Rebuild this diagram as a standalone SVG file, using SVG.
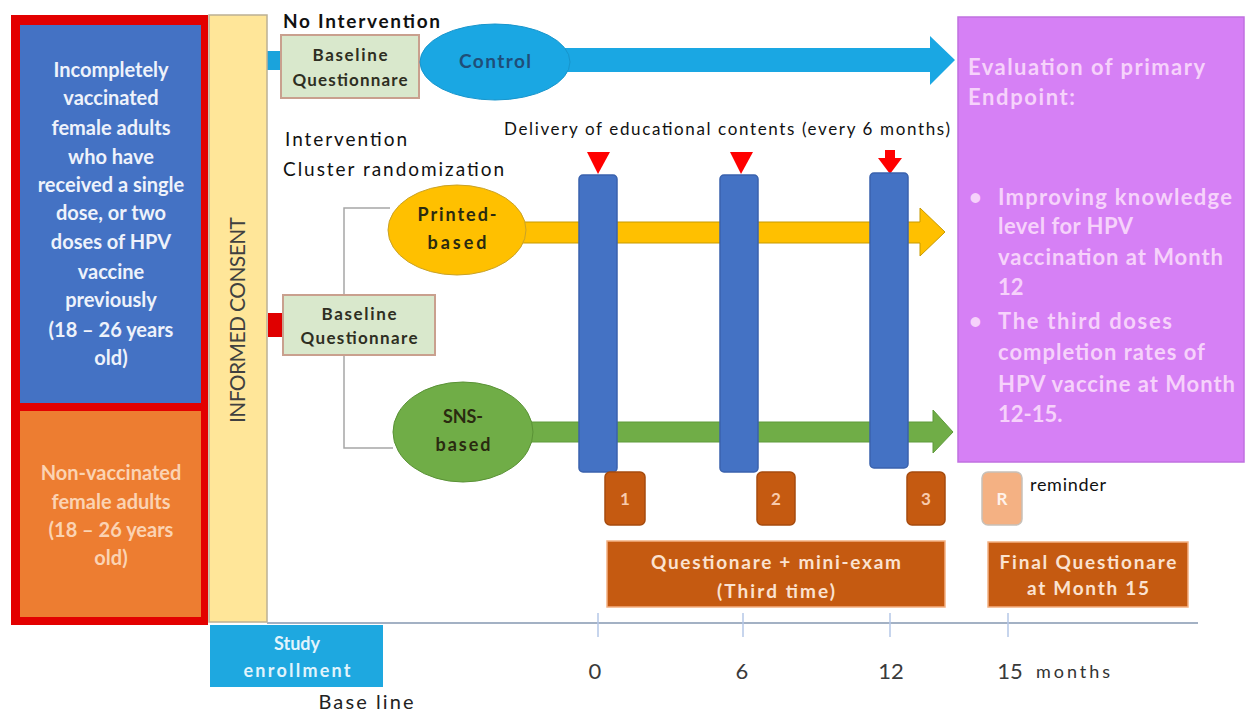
<svg xmlns="http://www.w3.org/2000/svg" width="1248" height="713" viewBox="0 0 1248 713">
<style>
text { font-family: Lato, "Liberation Sans", "DejaVu Sans", sans-serif; }
.lw { fill: #eef2fb; font-size: 20px; font-weight: bold; text-anchor: middle; }
.lo { fill: #fbd3b3; font-size: 20px; font-weight: bold; text-anchor: middle; }
.q { fill: #2e2e22; font-size: 17px; font-weight: bold; text-anchor: middle; }
.qbox { fill: #d9e8cc; stroke: #c9a08e; stroke-width: 2; }
.pt { fill: #f6d2fb; font-size: 22px; font-weight: bold; }
.bar { fill: #4472c4; stroke: #3a62ad; stroke-width: 1.5; }
.nbox { fill: #c55a11; stroke: #a64b0e; stroke-width: 1.5; }
.num { fill: #f8cbad; font-size: 17px; font-weight: bold; text-anchor: middle; }
.obox { fill: #c55a11; stroke: #f4b183; stroke-width: 1.5; }
.ot { fill: #fbe2d0; font-size: 19px; font-weight: bold; text-anchor: middle; }
.ax { fill: #3a3a3a; font-size: 22px; text-anchor: middle; }
.tri { fill: #ff0000; }
.tick { stroke: #b4c7e7; stroke-width: 1.5; }
.et { fill: #2a2a10; font-size: 18px; font-weight: bold; text-anchor: middle; }
</style>
<rect x="0" y="0" width="1248" height="713" fill="#ffffff"/>

<g id="connectors">
  <path d="M390,208 H344 V448 H393" fill="none" stroke="#a6a6a6" stroke-width="1.5"/>
  <rect x="266" y="51" width="15" height="19" fill="#1aa3dc"/>
  <rect x="268" y="313" width="16" height="24" fill="#e00000"/>
  <polygon points="565,48 930,48 930,36 955,60 930,85 930,72 565,72" fill="#1aa7e3"/>
  <polygon points="515,222 920,222 920,208 945,232 920,256 920,243 515,243" fill="#ffc000" stroke="#c79a00" stroke-width="1"/>
  <polygon points="528,422 933,422 933,410 953,432 933,453 933,442 528,442" fill="#70ad47" stroke="#5e9a3a" stroke-width="1"/>
  <polygon class="tri" points="587,152 610,152 598,174"/>
  <polygon class="tri" points="730,152 753,152 741,174"/>
  <polygon class="tri" points="885,150 895,150 895,158 902,158 890,174 878,158 885,158"/>
</g>

<g id="axis">
  <line x1="267" y1="623" x2="1198" y2="623" stroke="#8497b0" stroke-width="1.5"/>
  <line class="tick" x1="598" y1="613" x2="598" y2="637"/>
  <line class="tick" x1="743" y1="613" x2="743" y2="637"/>
  <line class="tick" x1="890" y1="613" x2="890" y2="637"/>
  <line class="tick" x1="1008" y1="613" x2="1008" y2="637"/>
  <text class="ax" x="595" y="679">0</text>
  <text class="ax" x="742" y="679">6</text>
  <text class="ax" x="891" y="679">12</text>
  <text class="ax" x="1010" y="679">15</text>
  <text x="1036" y="678" fill="#333" font-size="18" textLength="74">months</text>
</g>

<g id="population">
  <rect x="11" y="15" width="197" height="610" fill="#e30000"/>
  <rect x="20" y="25" width="181" height="378" fill="#4472c4"/>
  <rect x="20" y="411" width="181" height="206" fill="#ed7d31"/>
  <text class="lw" x="111" y="77">Incompletely</text>
  <text class="lw" x="111" y="105">vaccinated</text>
  <text class="lw" x="111" y="135">female adults</text>
  <text class="lw" x="111" y="164">who have</text>
  <text class="lw" x="111" y="192">received a single</text>
  <text class="lw" x="111" y="220">dose, or two</text>
  <text class="lw" x="111" y="249">doses of HPV</text>
  <text class="lw" x="111" y="279">vaccine</text>
  <text class="lw" x="111" y="307">previously</text>
  <text class="lw" x="111" y="337">(18 – 26 years</text>
  <text class="lw" x="111" y="365">old)</text>
  <text class="lo" x="111" y="480">Non-vaccinated</text>
  <text class="lo" x="111" y="509">female adults</text>
  <text class="lo" x="111" y="537">(18 – 26 years</text>
  <text class="lo" x="111" y="565">old)</text>
</g>

<g id="consent">
  <rect x="209" y="15" width="58" height="607" fill="#ffe699" stroke="#bcb094" stroke-width="1.5"/>
  <text transform="translate(245,320) rotate(-90)" text-anchor="middle" fill="#404040" font-size="21" textLength="206">INFORMED CONSENT</text>
</g>

<g id="enrollment">
  <rect x="210" y="625" width="173" height="62" fill="#1ea8e0"/>
  <text x="297" y="650" fill="#e2f4fc" font-size="18" font-weight="bold" text-anchor="middle">Study</text>
  <text x="297" y="677" fill="#e2f4fc" font-size="18" font-weight="bold" text-anchor="middle" textLength="107">enrollment</text>
  <text x="366" y="709" fill="#222" font-size="20" text-anchor="middle" textLength="95">Base line</text>
</g>

<g id="labels">
  <text x="283" y="28" fill="#111" font-size="19" font-weight="bold" textLength="157">No Intervention</text>
  <text x="285" y="146" fill="#111" font-size="19" textLength="122">Intervention</text>
  <text x="283" y="176" fill="#111" font-size="19" textLength="221">Cluster randomization</text>
  <text x="504" y="135" fill="#111" font-size="17" textLength="446">Delivery of educational contents (every 6 months)</text>
</g>

<g id="baseline-top">
  <rect class="qbox" x="281" y="35" width="138" height="63"/>
  <text class="q" x="350" y="61" textLength="75">Baseline</text>
  <text class="q" x="350" y="86" textLength="115">Questionnare</text>
</g>

<g id="control">
  <ellipse cx="495" cy="62" rx="75" ry="38" fill="#1aa7e3" stroke="#1795cc" stroke-width="1"/>
  <text x="495" y="68" fill="#1f4e79" font-size="19" font-weight="bold" text-anchor="middle" textLength="72">Control</text>
</g>

<g id="baseline-int">
  <rect class="qbox" x="283" y="295" width="152" height="60"/>
  <text class="q" x="359" y="320" textLength="75">Baseline</text>
  <text class="q" x="359" y="344" textLength="117">Questionnare</text>
</g>

<g id="printed">
  <ellipse cx="457" cy="230" rx="69" ry="45" fill="#ffc000" stroke="#c9a227" stroke-width="1"/>
  <text class="et" x="457" y="221" textLength="79">Printed-</text>
  <text class="et" x="457" y="249" textLength="59">based</text>
</g>

<g id="sns">
  <ellipse cx="463" cy="432" rx="70" ry="50" fill="#70ad47" stroke="#5a9236" stroke-width="1"/>
  <text class="et" x="463" y="423" textLength="40">SNS-</text>
  <text class="et" x="463" y="451" textLength="55">based</text>
</g>

<g id="delivery-0"><rect class="bar" x="579" y="175" width="38" height="297" rx="4"/></g>
<g id="delivery-6"><rect class="bar" x="720" y="175" width="38" height="297" rx="4"/></g>
<g id="delivery-12"><rect class="bar" x="870" y="173" width="38" height="295" rx="4"/></g>

<g id="q1"><rect class="nbox" x="605" y="472" width="40" height="53" rx="5"/><text class="num" x="625" y="505">1</text></g>
<g id="q2"><rect class="nbox" x="757" y="472" width="38" height="53" rx="5"/><text class="num" x="776" y="505">2</text></g>
<g id="q3"><rect class="nbox" x="907" y="472" width="38" height="53" rx="5"/><text class="num" x="926" y="505">3</text></g>
<g id="reminder">
  <rect x="982" y="472" width="40" height="53" rx="6" fill="#f4b183" stroke="#c8c0b8" stroke-width="1.5"/>
  <text x="1002" y="505" fill="#fff2ea" font-size="17" font-weight="bold" text-anchor="middle">R</text>
  <text x="1030" y="491" fill="#111" font-size="18" textLength="76">reminder</text>
</g>

<g id="questionnaire-exam">
  <rect class="obox" x="607" y="541" width="338" height="66"/>
  <text class="ot" x="776" y="569" textLength="250">Questionare + mini-exam</text>
  <text class="ot" x="776" y="598" textLength="118">(Third time)</text>
</g>

<g id="final-questionnaire">
  <rect class="obox" x="988" y="542" width="200" height="65"/>
  <text class="ot" x="1088" y="569" textLength="177">Final Questionare</text>
  <text class="ot" x="1088" y="595" textLength="122">at Month 15</text>
</g>

<g id="endpoint">
  <rect x="958" y="17" width="286" height="445" fill="#d680f5" stroke="#c070e0" stroke-width="1.5"/>
  <text class="pt" x="968" y="75" textLength="237">Evaluation of primary</text>
  <text class="pt" x="968" y="105" textLength="107">Endpoint:</text>
  <text class="pt" x="969" y="205">•</text>
  <text class="pt" x="998" y="205" textLength="234">Improving knowledge</text>
  <text class="pt" x="998" y="234" textLength="135">level for HPV</text>
  <text class="pt" x="998" y="265" textLength="225">vaccination at Month</text>
  <text class="pt" x="998" y="295">12</text>
  <text class="pt" x="969" y="329">•</text>
  <text class="pt" x="998" y="329" textLength="174">The third doses</text>
  <text class="pt" x="998" y="360" textLength="207">completion rates of</text>
  <text class="pt" x="998" y="392" textLength="237">HPV vaccine at Month</text>
  <text class="pt" x="998" y="422">12-15.</text>
</g>
</svg>
